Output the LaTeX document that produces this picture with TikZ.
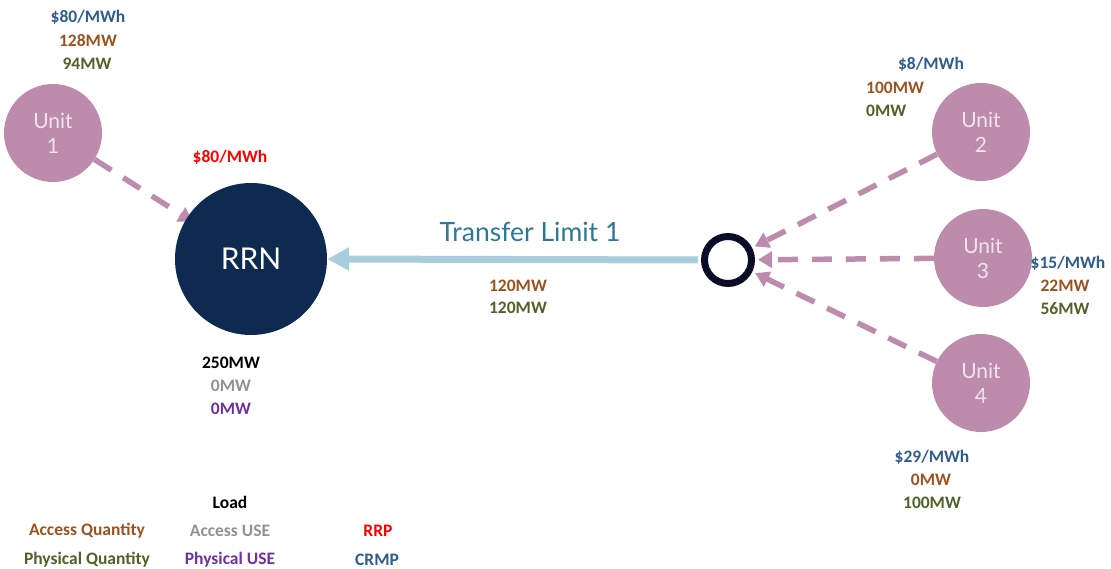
\documentclass[tikz,border=0pt]{standalone}
\usepackage{fontspec}
\setmainfont{Carlito}
\newfontfamily\lato{Lato}
\usetikzlibrary{arrows.meta,backgrounds}
\definecolor{pinkc}{RGB}{189,140,173}
\definecolor{navyc}{RGB}{14,42,80}
\definecolor{hubc}{RGB}{10,12,40}
\definecolor{lblue}{RGB}{168,205,220}
\definecolor{tealc}{RGB}{45,120,150}
\definecolor{crmpc}{RGB}{47,92,140}
\definecolor{brownc}{RGB}{156,82,30}
\definecolor{greenc}{RGB}{79,98,40}
\definecolor{grayc}{RGB}{145,145,145}
\definecolor{purplec}{RGB}{112,48,160}
\definecolor{redc}{RGB}{255,0,0}
\definecolor{unittext}{RGB}{240,228,236}
\tikzset{
  unit/.style={circle, fill=pinkc, draw=none, minimum size=98, inner sep=0pt, align=center,
    text=unittext, font=\lato\fontsize{21}{25}\selectfont},
  lbl/.style={inner sep=0pt, font=\bfseries\fontsize{17.5}{21}\selectfont},
  dsh/.style={draw=pinkc, line width=5.5, dash pattern=on 20 off 14,
    -{Triangle[length=14,width=16]}},
  tl/.style={draw=lblue, line width=7, -{Triangle[length=22,width=22]}}
}
\begin{document}
\begin{tikzpicture}[x=1pt,y=-1pt]
\useasboundingbox (0,0) rectangle (1111,569);
% nodes
\node[unit] (u1) at (53,133) {Unit\\1};
\node[unit] (u2) at (981,132) {Unit\\2};
\node[unit] (u3) at (983,258) {Unit\\3};
\node[unit] (u4) at (981,383) {Unit\\4};
\node[circle, fill=navyc, minimum size=152, inner sep=0pt, text=white,
      font=\lato\fontsize{30}{36}\selectfont] (rrn) at (251,259) {RRN};
\node[circle, draw=hubc, line width=7, minimum size=47, inner sep=0pt] (hub) at (728,260) {};
% connectors
\draw[tl, shorten <=3] (hub.west) -- (rrn.east);
\begin{scope}[on background layer]
\draw[dsh, shorten >=-7] (u1) -- (rrn);
\end{scope}
\draw[dsh, shorten >=3] (u2) -- (hub);
\draw[dsh, shorten >=3] (u3) -- (hub);
\draw[dsh, shorten >=3] (u4) -- (hub);
% transfer label
\node[text=tealc, inner sep=0pt, font=\lato\fontsize{26.5}{30}\selectfont] (tlim) at (530,232) {Transfer Limit 1};
\node[lbl, text=brownc] (tq1) at (518,286) {120MW};
\node[lbl, text=greenc] (tq2) at (518,308) {120MW};
% unit 1 labels
\node[lbl, text=crmpc] (u1p) at (88,17) {\$80/MWh};
\node[lbl, text=brownc] (u1a) at (88,41) {128MW};
\node[lbl, text=greenc] (u1b) at (87,64) {94MW};
% RRN labels
\node[lbl, text=redc] (rrp) at (230,157) {\$80/MWh};
\node[lbl, text=black] (load) at (231,363) {250MW};
\node[lbl, text=grayc] (ause) at (231,386) {0MW};
\node[lbl, text=purplec] (puse) at (231,409) {0MW};
% unit 2 labels
\node[lbl, text=crmpc] (u2p) at (931,64) {\$8/MWh};
\node[lbl, text=brownc, anchor=west] (u2a) at (866,88) {100MW};
\node[lbl, text=greenc, anchor=west] (u2b) at (866,111) {0MW};
% unit 3 labels
\node[lbl, text=crmpc] (u3p) at (1068,263) {\$15/MWh};
\node[lbl, text=brownc] (u3a) at (1065,286) {22MW};
\node[lbl, text=greenc] (u3b) at (1065,309) {56MW};
% unit 4 labels
\node[lbl, text=crmpc] (u4p) at (932,457) {\$29/MWh};
\node[lbl, text=brownc] (u4a) at (931,480) {0MW};
\node[lbl, text=greenc] (u4b) at (932,503) {100MW};
% legend
\node[lbl, text=black] (lgload) at (230,502) {Load};
\node[lbl, text=brownc] (lgaq) at (87,531) {Access Quantity};
\node[lbl, text=grayc] (lgau) at (230,531) {Access USE};
\node[lbl, text=redc] (lgrrp) at (378,531) {RRP};
\node[lbl, text=greenc] (lgpq) at (87,560) {Physical Quantity};
\node[lbl, text=purplec] (lgpu) at (230,560) {Physical USE};
\node[lbl, text=crmpc] (lgcrmp) at (377,560) {CRMP};
\end{tikzpicture}
\end{document}
